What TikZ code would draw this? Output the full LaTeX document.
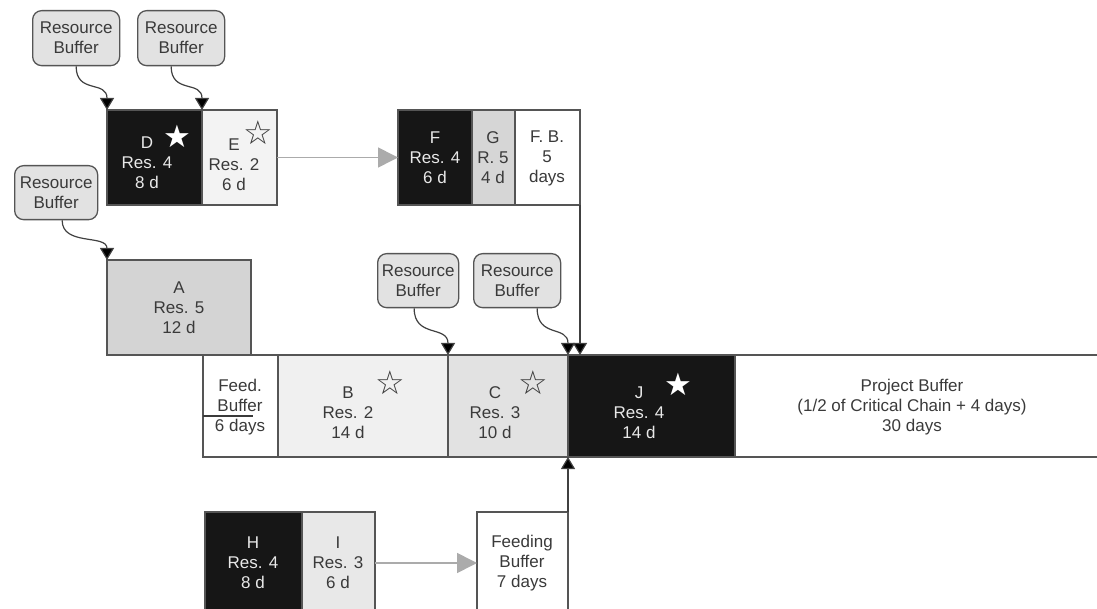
\documentclass[tikz,border=0pt]{standalone}
\usepackage{fontspec}
\setmainfont{Liberation Sans}
\newfontfamily\symfont{DejaVu Sans}
\usetikzlibrary{arrows.meta}
\definecolor{txt}{HTML}{3A3A3A}
\definecolor{wtxt}{HTML}{E8E8E8}
\definecolor{edge}{HTML}{555555}
\definecolor{blk}{HTML}{161616}
\definecolor{rbfill}{HTML}{E2E2E2}
\definecolor{lgE}{HTML}{F3F3F3}
\definecolor{gG}{HTML}{D6D6D6}
\definecolor{gA}{HTML}{D4D4D4}
\definecolor{lgB}{HTML}{F0F0F0}
\definecolor{gC}{HTML}{E2E2E2}
\definecolor{gI}{HTML}{E8E8E8}
\definecolor{garrow}{HTML}{ABABAB}
\begin{document}
\begin{tikzpicture}[x=1pt,y=-1pt,
  box/.style={draw=edge, line width=1.3pt, anchor=north west, inner sep=0pt, outer sep=0pt},
  lbl/.style={text=txt, font=\fontsize{17}{20}\selectfont, align=center, inner sep=0pt},
  wlbl/.style={lbl, text=wtxt},
  rb/.style={draw=edge, fill=rbfill, rounded corners=9pt, line width=1.3pt, anchor=north west,
     inner sep=0pt, text=txt, font=\fontsize{17}{20}\selectfont, align=center},
  wstar/.style={font=\symfont\fontsize{31}{31}\selectfont, inner sep=0pt, text=white},
  ostar/.style={font=\symfont\fontsize{33}{33}\selectfont, inner sep=0pt, text=txt},
  rbarrow/.style={draw=black!75, line width=1.2pt, -{Triangle[width=14pt,length=12pt,fill=black]}},
  grayarrow/.style={draw=garrow, line width=1.6pt, -{Triangle[width=20pt,length=20pt]}, color=garrow}
]
\useasboundingbox (0,0) rectangle (1097,609);
\clip (0,0) rectangle (1097,609);

% resource buffers
\node[rb, minimum width=87pt, minimum height=55pt] (RB1) at (32,10) {Resource\\Buffer};
\node[rb, minimum width=87pt, minimum height=55pt] (RB2) at (137,10) {Resource\\Buffer};
\node[rb, minimum width=83pt, minimum height=54pt] (RB3) at (14,165) {Resource\\Buffer};
\node[rb, minimum width=81pt, minimum height=54pt] (RB4) at (377,253) {Resource\\Buffer};
\node[rb, minimum width=87pt, minimum height=54pt] (RB5) at (473,253) {Resource\\Buffer};

% task boxes
\node[box, fill=blk, minimum width=95pt, minimum height=95pt] (D) at (107,110) {};
\node[box, fill=lgE, minimum width=75pt, minimum height=95pt] (E) at (202,110) {};
\node[box, fill=blk, minimum width=74pt, minimum height=95pt] (F) at (398,110) {};
\node[box, fill=gG, minimum width=43pt, minimum height=95pt] (G) at (472,110) {};
\node[box, fill=white, minimum width=65pt, minimum height=95pt] (FB) at (515,110) {};
\node[box, fill=gA, minimum width=144pt, minimum height=95pt] (A) at (107,260) {};
\node[box, fill=white, minimum width=75pt, minimum height=102pt] (FdB) at (203,355) {};
\node[box, fill=lgB, minimum width=170pt, minimum height=102pt] (B) at (278,355) {};
\node[box, fill=gC, minimum width=120pt, minimum height=102pt] (C) at (448,355) {};
\node[box, fill=blk, minimum width=167pt, minimum height=102pt] (J) at (568,355) {};
\node[anchor=north west, inner sep=0pt, outer sep=0pt, minimum width=370pt, minimum height=102pt] (PB) at (735,355) {};
\draw[draw=edge, line width=1.3pt] (PB.north west) -- (PB.north east);
\draw[draw=edge, line width=1.3pt] (PB.south west) -- (PB.south east);
\node[box, fill=blk, minimum width=97pt, minimum height=102pt] (H) at (205,512) {};
\node[box, fill=gI, minimum width=73pt, minimum height=102pt] (I) at (302,512) {};
\node[box, fill=white, minimum width=91pt, minimum height=102pt] (FB2) at (477,512) {};

% labels
\node[wlbl] (tD) at (147,163) {D\\Res. 4\\8 d};
\node[wstar] (sD) at (177,136) {★};
\node[lbl] (tE) at (234,165) {E\\Res. 2\\6 d};
\node[ostar] (sE) at (258,133) {☆};
\node[wlbl] (tF) at (435,158) {F\\Res. 4\\6 d};
\node[lbl] (tG) at (493,158) {G\\R. 5\\4 d};
\node[lbl] (tFB) at (547,158) {F. B.\\5\\days};
\node[lbl] (tA) at (179,308) {A\\Res. 5\\12 d};
\node[lbl] (tFdB) at (240,407) {Feed.\\Buffer\\6 days};
\node[lbl] (tB) at (348,413) {B\\Res. 2\\14 d};
\node[ostar] (sB) at (390,383) {☆};
\node[lbl] (tC) at (495,413) {C\\Res. 3\\10 d};
\node[ostar] (sC) at (533,383) {☆};
\node[wlbl] (tJ) at (639,413) {J\\Res. 4\\14 d};
\node[wstar] (sJ) at (678,384) {★};
\node[lbl] (tPB) at (912,407) {Project Buffer\\(1/2 of Critical Chain + 4 days)\\30 days};
\node[wlbl] (tH) at (253,563) {H\\Res. 4\\8 d};
\node[lbl] (tI) at (338,563) {I\\Res. 3\\6 d};
\node[lbl] (tFB2) at (522,563) {Feeding\\Buffer\\7 days};

% feed buffer underline
\draw[draw=txt, line width=1.5pt] ([yshift=-10pt]FdB.west) -- ++(50,0);

% connectors
\draw[rbarrow] (RB1.south) .. controls +(0,28) and +(0,-30) .. (D.north west);
\draw[rbarrow] ([xshift=-10pt]RB2.south) .. controls +(0,28) and +(0,-30) .. (D.north east);
\draw[rbarrow] ([xshift=6pt]RB3.south) .. controls +(0,26) and +(0,-26) .. (A.north west);
\draw[rbarrow] ([xshift=-4pt]RB4.south) .. controls +(0,30) and +(0,-30) .. (B.north east);
\draw[rbarrow] ([xshift=20pt]RB5.south) .. controls +(0,30) and +(0,-30) .. (J.north west);
\draw[rbarrow] (FB.south east) -- (FB.south east |- J.north);
\draw[rbarrow] (FB2.north east) -- (C.south east);
\draw[grayarrow] (E.east) -- (F.west);
\draw[grayarrow] (I.east) -- (FB2.west);
\end{tikzpicture}
\end{document}
